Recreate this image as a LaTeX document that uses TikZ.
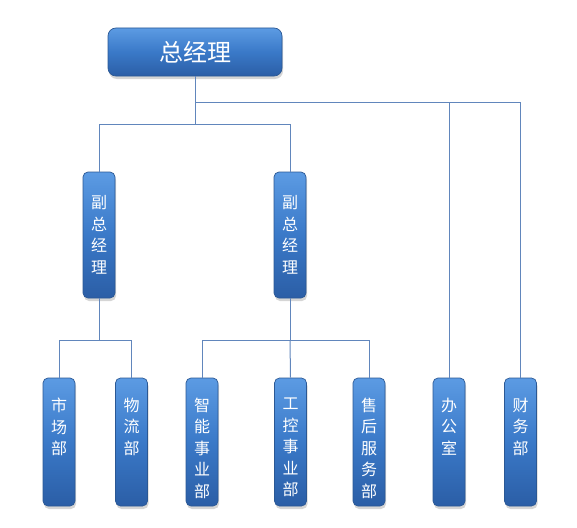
\documentclass[tikz,border=0pt]{standalone}
\usepackage{fontspec}
\setmainfont{Noto Sans CJK SC}
\usetikzlibrary{shadows}
\definecolor{boxtop}{HTML}{5C9BE3}
\definecolor{boxmid}{HTML}{3A79C8}
\definecolor{boxbot}{HTML}{2B5EA6}
\definecolor{boxedge}{HTML}{2B5894}
\definecolor{conn}{HTML}{6186BC}
\tikzset{
  boxbase/.style={rectangle, rounded corners=5pt, draw=boxedge, line width=0.7pt,
    top color=boxtop, bottom color=boxbot, middle color=boxmid,
    text=white, inner sep=0pt,
    drop shadow={shadow xshift=1pt, shadow yshift=-3pt, opacity=0.3, fill=black!55}},
  topbox/.style={boxbase, minimum width=174pt, minimum height=48pt, rounded corners=8pt,
    font=\fontsize{24}{28}\selectfont},
  vicebox/.style={boxbase, minimum width=32pt, minimum height=126pt,
    font=\fontsize{16}{21.5}\selectfont, align=center},
  deptbox/.style={boxbase, minimum width=32pt, minimum height=128pt,
    font=\fontsize{16}{21.5}\selectfont},
  link/.style={draw=conn, line width=1pt}
}
\newcommand{\vtext}[1]{\parbox[c][112pt][t]{22pt}{\vspace*{12pt}\centering #1}}
\begin{document}
\begin{tikzpicture}[x=1pt,y=-1pt]
\useasboundingbox (0,0) rectangle (577,527);
% nodes
\node[topbox] (gm) at (195,52) {总经理};
\node[vicebox] (v1) at (99,235) {副\\总\\经\\理};
\node[vicebox] (v2) at (290,235) {副\\总\\经\\理};
\node[deptbox] (mk) at (59,442) {\vtext{市\\场\\部}};
\node[deptbox] (wl) at (131.5,442) {\vtext{物\\流\\部}};
\node[deptbox] (zn) at (202,442) {\vtext{智\\能\\事\\业\\部}};
\node[deptbox] (gk) at (290.5,442) {\vtext{工\\控\\事\\业\\部}};
\node[deptbox] (sh) at (369,442) {\vtext{售\\后\\服\\务\\部}};
\node[deptbox] (bg) at (449,442) {\vtext{办\\公\\室}};
\node[deptbox] (cw) at (520.5,442) {\vtext{财\\务\\部}};
% junction levels
\coordinate (h1) at (0,102);
\coordinate (h2) at (0,124);
\coordinate (h3) at (0,340);
% connectors
\draw[link] (gm.south) -- (gm.south |- h1) -| (cw.north);
\draw[link] (bg.north |- h1) -- (bg.north);
\draw[link] (gm.south |- h1) -- (gm.south |- h2) -| (v1.north);
\draw[link] (gm.south |- h2) -| (v2.north);
\draw[link] (v1.south) -- (v1.south |- h3) -| (mk.north);
\draw[link] (v1.south |- h3) -| (wl.north);
\draw[link] (v2.south) -- (v2.south |- h3) -| (zn.north);
\draw[link] (v2.south |- h3) -| (sh.north);
\draw[link] (v2.south |- h3) -- (gk.north);
\end{tikzpicture}
\end{document}
